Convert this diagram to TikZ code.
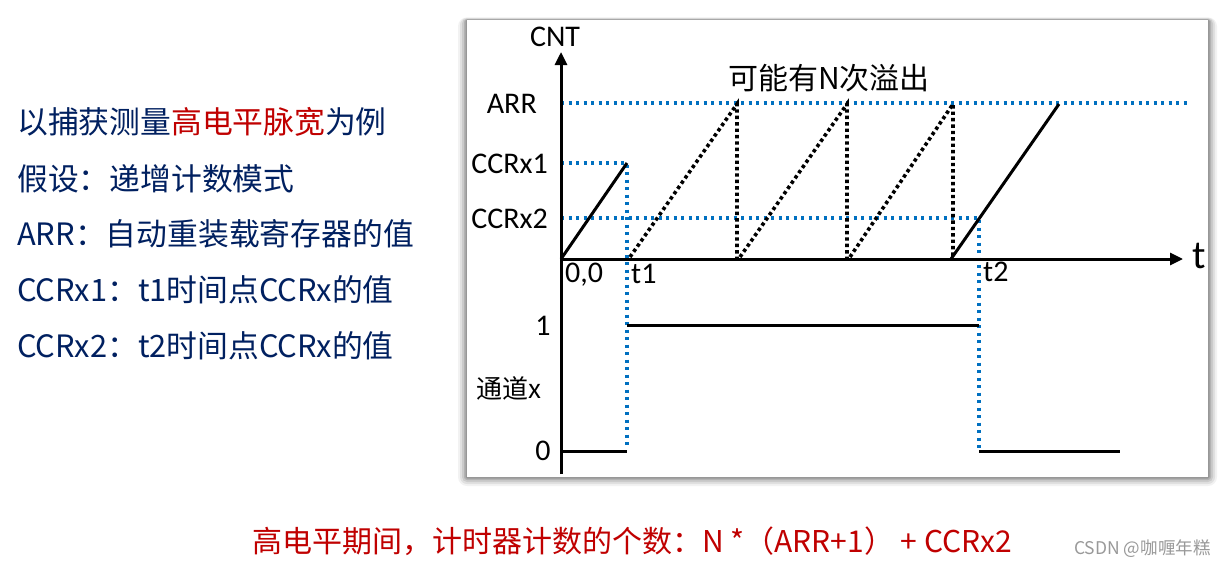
\documentclass[tikz,border=0pt]{standalone}
\usepackage{fontspec}
\setmainfont{Carlito}
\newfontfamily\cjk{Noto Sans CJK SC}
\usetikzlibrary{arrows.meta}
\definecolor{navy}{RGB}{0,32,96}
\definecolor{dred}{RGB}{192,0,0}
\definecolor{lblue}{RGB}{0,112,192}
\begin{document}
\begin{tikzpicture}[x=1pt,y=-1pt,
  axis/.style={line width=3pt,-{Triangle[length=13pt,width=12pt]}},
  solidline/.style={line width=3pt},
  bluedot/.style={lblue,line width=3.3pt,dash pattern=on 3.3pt off 4.2pt},
  blackdot/.style={black,line width=3.6pt,dash pattern=on 3.4pt off 3pt},
  lbl/.style={inner sep=0pt,font=\fontsize{30}{34}\selectfont},
  lefttxt/.style={inner sep=0pt,anchor=west,text=navy,font=\cjk\fontsize{30.8}{35}\selectfont}]
\useasboundingbox (0,0) rectangle (1226,568);
\fill[white] (0,0) rectangle (1226,568);
% panel shadow
\foreach \d/\o in {9/0.05,7/0.07,5/0.09,3/0.12,1.5/0.15}{
  \fill[black,opacity=\o,rounded corners=\d pt] (467-\d,20-\d*0.3) rectangle (1208+\d,477+\d);
}
\fill[white] (467,20) rectangle (1208,477);
% coordinates
\coordinate (O) at (561,259);
\coordinate (Ytop) at (561,52);
\coordinate (Ybot) at (561,474);
\coordinate (Xend) at (1183,259);
\coordinate (arrL) at (561,103);
\coordinate (arrR) at (1188,103);
\coordinate (c1L) at (561,163);
\coordinate (c1) at (627,163);
\coordinate (c1B) at (627,449);
\coordinate (c2L) at (561,218);
\coordinate (c2) at (979,218);
\coordinate (c2B) at (979,449);
\coordinate (s1) at (630,257);
\coordinate (p1) at (737,104);
\coordinate (b1) at (737,259);
\coordinate (s2) at (740,257);
\coordinate (p2) at (847,104);
\coordinate (b2) at (847,259);
\coordinate (s3) at (850,257);
\coordinate (p3) at (953,104);
\coordinate (b3) at (953,259);
\coordinate (s4) at (951,259);
\coordinate (e4) at (1059,104);
\coordinate (lo0) at (561,451);
\coordinate (lo1) at (627,451);
\coordinate (hi1) at (627,325);
\coordinate (hi2) at (979,325);
\coordinate (lo2) at (979,451);
\coordinate (lo3) at (1120,451);
% blue dotted guides
\draw[bluedot] (arrL) -- (arrR);
\draw[bluedot] (c1L) -- (c1) -- (c1B);
\draw[bluedot] (c2L) -- (c2) -- (c2B);
% black dotted sawtooth
\draw[blackdot] (s1) -- (p1) -- (b1);
\draw[blackdot] (s2) -- (p2) -- (b2);
\draw[blackdot] (s3) -- (p3) -- (b3);
% solid ramps
\draw[solidline] (O) -- (c1);
\draw[solidline] (s4) -- (e4);
% signal
\draw[solidline] (lo0) -- (lo1);
\draw[solidline] (hi1) -- (hi2);
\draw[solidline] (lo2) -- (lo3);
% axes
\draw[axis] (Ybot) -- (Ytop);
\draw[axis] (O) -- (Xend);
% labels
\node[lbl] (cnt) at (555,37) {CNT};
\node[lbl,anchor=east] (larr) at (537,104) {ARR};
\node[lbl,anchor=east] (lc1) at (548,164) {CCRx1};
\node[lbl,anchor=east] (lc2) at (548,219) {CCRx2};
\node[inner sep=0pt,font=\fontsize{40}{42}\selectfont] (lt) at (1199,256) {t};
\node[lbl,anchor=west] (l00) at (565,275) {0,0};
\node[lbl,anchor=west] (lt1) at (631,274) {t1};
\node[lbl,anchor=west] (lt2) at (983,272) {t2};
\node[lbl] (l1) at (543,326) {1};
\node[lbl] (l0) at (543,451) {0};
\node[inner sep=0pt,font=\cjk\fontsize{26}{30}\selectfont] (chx) at (509,388) {通道x};
\node[inner sep=0pt,font=\cjk\fontsize{30}{34}\selectfont] (ovf) at (829,78) {可能有N次溢出};
% left text
\node[lefttxt] (t1) at (17,122) {以捕获测量\textcolor{dred}{高电平脉宽}为例};
\node[lefttxt] (t2) at (17,179) {假设：递增计数模式};
\node[lefttxt] (t3) at (17,234) {ARR：自动重装载寄存器的值};
\node[lefttxt] (t4) at (17,290) {CCRx1：t1时间点CCRx的值};
\node[lefttxt] (t5) at (17,346) {CCRx2：t2时间点CCRx的值};
% bottom formula
\node[inner sep=0pt,anchor=west,text=dred,font=\cjk\fontsize{30}{34}\selectfont] (form) at (252,541) {高电平期间，计时器计数的个数：N *（ARR+1） + CCRx2};
\node[inner sep=0pt,anchor=west,text=black!40,font=\cjk\fontsize{17.5}{20}\selectfont] (csdn) at (1074,549) {CSDN @咖喱年糕};
\end{tikzpicture}
\end{document}
